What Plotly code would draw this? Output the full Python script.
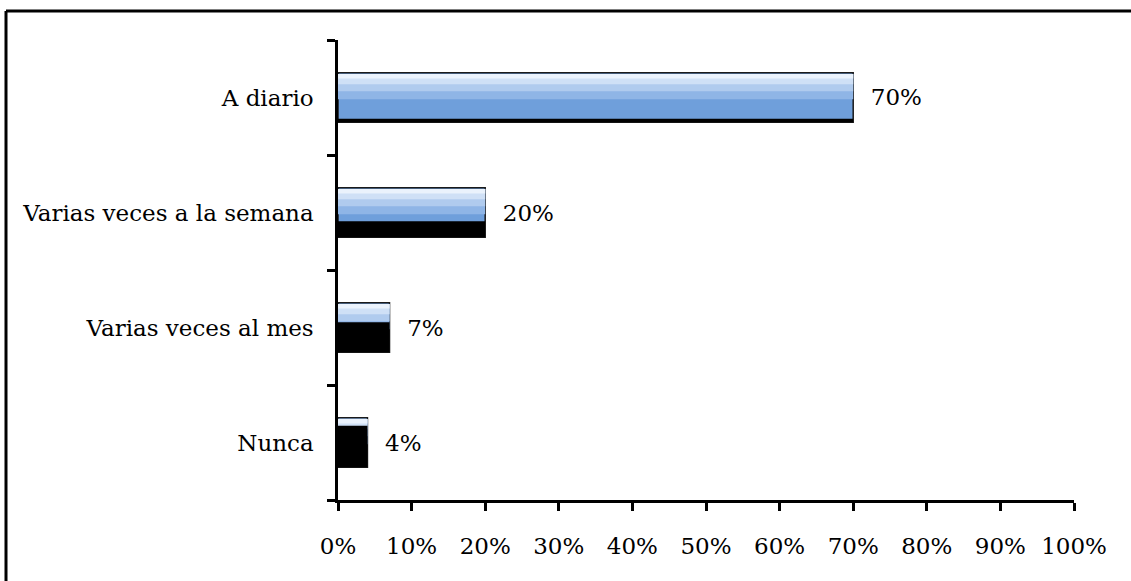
import plotly.graph_objects as go

# data (bottom to top, as drawn on the category axis)
categories = ["Nunca", "Varias veces al mes", "Varias veces a la semana", "A diario"]
values = [4, 7, 20, 70]
x_ticks = [0, 10, 20, 30, 40, 50, 60, 70, 80, 90, 100]
x_tick_labels = [f"{t}%" for t in x_ticks]
value_labels = [f"\u00a0\u00a0{v}%" for v in values]

W, H = 1131, 581
ML, MR, MT, MB = 338, 57, 40, 81
FONT = "DejaVu Serif, Liberation Serif, serif"
FS = 23
BAR_W = 0.43

fig = go.Figure()

# base bar (mid blue) with the value labels
fig.add_trace(go.Bar(
    y=categories, x=values, orientation="h",
    width=BAR_W, offset=-BAR_W / 2,
    marker=dict(color="#6f9fdb", line=dict(color="#1a1a1a", width=1.5)),
    text=value_labels, textposition="outside", cliponaxis=False,
    textfont=dict(family=FONT, size=FS, color="black"),
    hoverinfo="skip", showlegend=False,
))
# lighter upper bands to fake the gradient
for w, c in [(0.22, "#8fb5e6"), (0.15, "#b0cbee"), (0.09, "#cfe0f6"), (0.04, "#eaf2fc")]:
    fig.add_trace(go.Bar(
        y=categories, x=values, orientation="h",
        width=w, offset=BAR_W / 2 - w - 0.01,
        marker=dict(color=c, line=dict(width=0)),
        hoverinfo="skip", showlegend=False,
    ))
# dark shadow at the bottom of the bars
fig.add_trace(go.Bar(
    y=categories, x=values, orientation="h",
    width=[0.36, 0.26, 0.14, 0.03],
    offset=[-BAR_W / 2] * 4,
    marker=dict(color="black", line=dict(width=0)),
    hoverinfo="skip", showlegend=False,
))

fig.update_layout(
    width=W, height=H,
    margin=dict(l=ML, r=MR, t=MT, b=MB),
    barmode="overlay",
    plot_bgcolor="white", paper_bgcolor="white",
    font=dict(family=FONT, size=FS, color="black"),
)

fig.update_xaxes(
    range=[0, 100], tickmode="array", tickvals=x_ticks, ticktext=x_tick_labels,
    showgrid=False, zeroline=False,
    showline=True, linecolor="black", linewidth=2.5,
    ticks="outside", ticklen=8, tickwidth=2.5, tickcolor="black",
    ticklabelstandoff=16,
    tickfont=dict(family=FONT, size=FS),
)
fig.update_yaxes(
    type="category", categoryorder="array", categoryarray=categories,
    range=[-0.5, 3.5],
    showgrid=False, zeroline=False,
    showline=True, linecolor="black", linewidth=2.5,
    ticks="outside", tickson="boundaries", ticklen=8, tickwidth=2.5, tickcolor="black",
    ticklabelstandoff=17,
    tickfont=dict(family=FONT, size=FS),
)

# outer frame of the picture: only top and left edges are inside the image
pw, ph = W - ML - MR, H - MT - MB
fx0, fx1 = (6 - ML) / pw, (W + 20 - ML) / pw
fy0, fy1 = (H - MB - (H + 20)) / ph, (H - MB - 11) / ph
frame = dict(type="line", xref="paper", yref="paper",
             line=dict(color="black", width=3), layer="above")
fig.add_shape(x0=fx0, x1=fx1, y0=fy1, y1=fy1, **frame)
fig.add_shape(x0=fx0, x1=fx0, y0=fy0, y1=fy1, **frame)

# drop the default page margin so the figure sits at the window corner
fig.write_html("out.html", config={"displayModeBar": False},
               post_script="document.body.style.margin='0';")
